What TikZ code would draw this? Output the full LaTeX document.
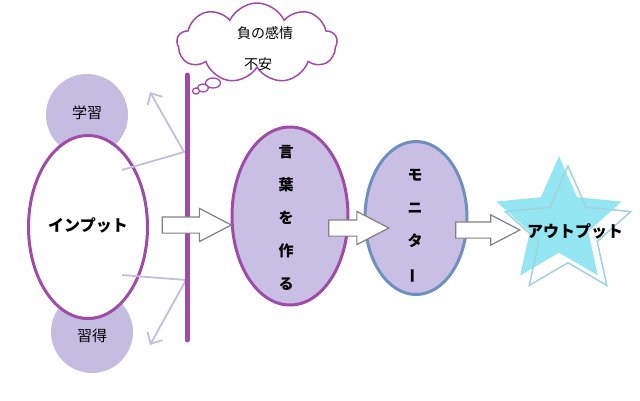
\documentclass[tikz,border=0pt]{standalone}
\usepackage{fontspec}
\setmainfont{Noto Sans CJK JP}
\usetikzlibrary{shapes.geometric,shapes.symbols,shapes.arrows,arrows.meta}
\definecolor{pur}{HTML}{A04CA6}
\definecolor{lav}{HTML}{C9BFE5}
\definecolor{lavc}{HTML}{C5BCE2}
\definecolor{blu}{HTML}{6F8FC0}
\definecolor{lightarr}{HTML}{C3BDE2}
\definecolor{cyanfill}{HTML}{94E6F2}
\definecolor{cyanline}{HTML}{9FD3DD}
\definecolor{arrgray}{HTML}{808080}
\tikzset{
  softcircle/.style={circle,fill=lavc,inner sep=0pt,minimum size=82pt},
  bigoval/.style={ellipse,line width=3pt,inner sep=0pt},
  blockarrow/.style={single arrow,draw=arrgray,fill=white,line width=1.2pt,
     inner xsep=0pt,inner ysep=7.5pt,single arrow head extend=8.5pt,
     single arrow tip angle=55,anchor=center},
  lightline/.style={draw=lightarr,line width=1.8pt,line join=round},
  bubble/.style={ellipse,draw=pur,fill=white,line width=1.3pt,inner sep=0pt},
  txt/.style={font=\fontsize{15pt}{18pt}\selectfont,inner sep=0pt},
  btxt/.style={font=\fontsize{16pt}{19pt}\selectfont\bfseries,inner sep=0pt},
  vtxt/.style={font=\fontsize{15pt}{33pt}\selectfont\bfseries,align=center,inner sep=0pt},
}
\begin{document}
\begin{tikzpicture}[x=1pt,y=-1pt]
\useasboundingbox (0,0) rectangle (640,400);
\fill[white] (0,0) rectangle (640,400);
% soft circles
\node[softcircle] (gakushu) at (87,115) {};
\node[softcircle] (shutoku) at (92,332) {};
\node[txt] at (87,113) {学習};
\node[txt] at (92,336) {習得};
% input ellipse
\node[bigoval,draw=pur,fill=white,minimum width=119pt,minimum height=183pt] (input) at (88,227) {};
\node[btxt] at (88,225) {インプット};
% bar
\coordinate (bartop) at (187,75);
\coordinate (barbot) at (187,340);
\coordinate (barup) at (184,152);
\coordinate (barlow) at (186,280);
\coordinate (inup) at (122,170);
\coordinate (inlow) at (122,275);
\coordinate (tipup) at (150,92);
\coordinate (tiplow) at (150,345);
\draw[lightline,-{Straight Barb[length=9pt,width=17pt,line width=1.8pt]}] (inup) -- (barup) -- (tipup);
\draw[lightline,-{Straight Barb[length=9pt,width=17pt,line width=1.8pt]}] (inlow) -- (barlow) -- (tiplow);
\draw[pur,line width=5pt,line cap=round] (bartop) -- (barbot);
% thought cloud
\node[cloud,cloud puffs=9,cloud puff arc=130,aspect=2.1,draw=pur,fill=white,line width=1.5pt,
      minimum width=160pt,minimum height=80pt,inner sep=0pt] (cloud) at (257,43) {};
\node[txt,font=\fontsize{14pt}{17pt}\selectfont] (neg) at (265,33) {負の感情};
\node[txt,font=\fontsize{14pt}{17pt}\selectfont] (fuan) at (258,64) {不安};
\node[bubble,minimum width=15pt,minimum height=10pt] (b1) at (213,83) {};
\node[bubble,minimum width=11pt,minimum height=8pt] (b2) at (203,88) {};
\node[bubble,minimum width=7pt,minimum height=6pt] (b3) at (196,91) {};
% kotoba ellipse
\node[bigoval,draw=pur,fill=lav,minimum width=116pt,minimum height=178pt] (kotoba) at (290,216) {};
\node[vtxt] at (286,218) {言\\葉\\を\\作\\る};
% monitor ellipse
\node[bigoval,draw=blu,fill=lav,minimum width=102pt,minimum height=153pt] (monitor) at (416,218) {};
\node[vtxt] at (415,226) {モ\\ニ\\タ\\\rotatebox[origin=c]{90}{ー}};
% block arrows
\node[blockarrow,minimum height=69pt] (a1) at (189,225) {};
\node[blockarrow,minimum height=60pt] (a2) at (351,228) {};
\node[blockarrow,minimum height=64pt,single arrow head extend=7pt] (a3) at (480,230) {};
% stars
\node[star,star points=5,star point ratio=2.15,minimum size=132pt,inner sep=0pt,fill=cyanfill] (star1) at (559,222) {};
\node[star,star points=5,star point ratio=2.15,minimum size=132pt,inner sep=0pt,draw=cyanline,line width=1.5pt] (star2) at (568,232) {};
\node[btxt] (output) at (575,231) {アウトプット};
\end{tikzpicture}
\end{document}
